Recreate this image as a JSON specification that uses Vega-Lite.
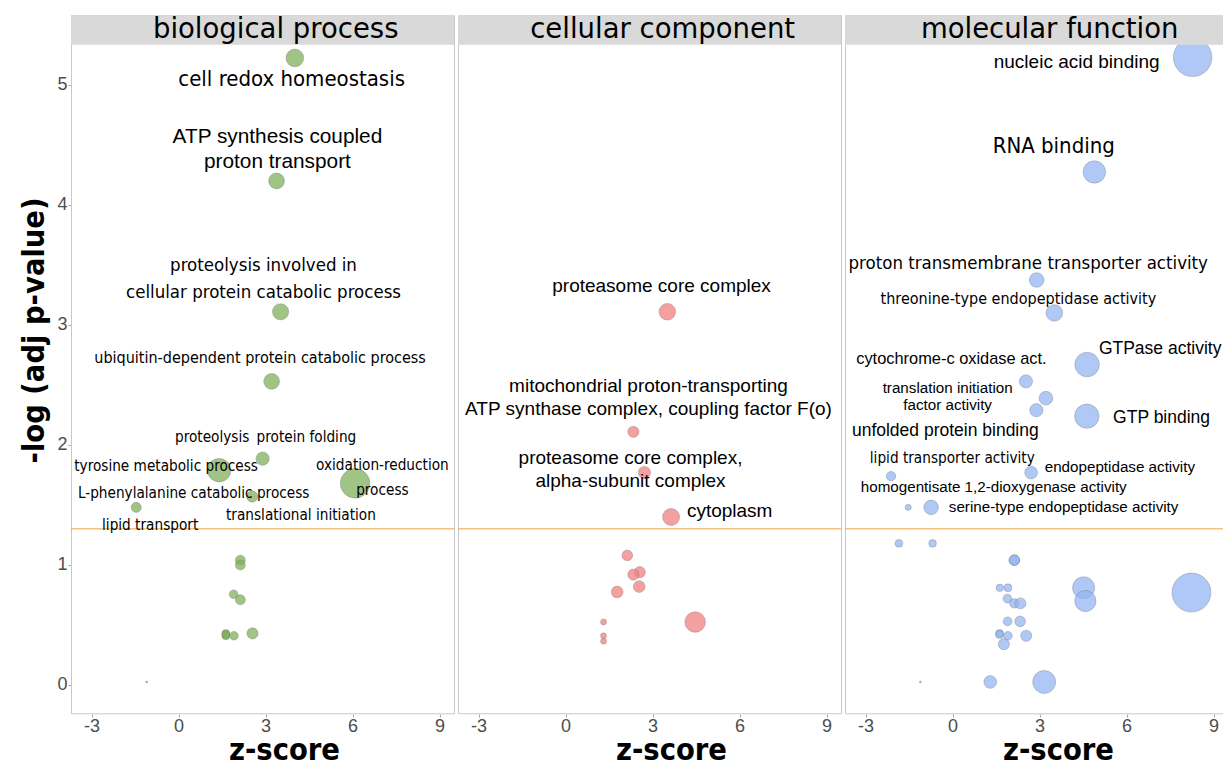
{
  "$schema": "https://vega.github.io/schema/vega-lite/v6.json",
  "padding": {"left": 19, "top": 14, "right": 0, "bottom": 0},
  "background": "white",
  "bounds": "flush",
  "config": {
    "view": {"stroke": "#C8C8C8", "strokeWidth": 1},
    "axis": {"grid": false, "domain": false, "tickSize": 3, "tickColor": "#A6A6A6", "labelFontSize": 18, "labelColor": "#4D4D4D", "labelFont": "Liberation Sans", "labelPadding": 1, "titleFont": "DejaVu Sans Condensed, sans-serif", "titleFontSize": 30.5, "titleFontWeight": "bold", "titleColor": "black"}
  },
  "data": {"values": [
    {"cat": "biological process", "term": "cell redox homeostasis", "lab": "cell redox homeostasis", "z": 4.01, "p": 5.225, "n": 25, "lx": 3.90, "ly": 5.05},
    {"cat": "biological process", "term": "ATP synthesis coupled proton transport", "lab": "ATP synthesis coupled\nproton transport", "z": 3.38, "p": 4.20, "n": 20, "lx": 3.41, "ly": 4.566},
    {"cat": "biological process", "term": "proteolysis involved in cellular protein catabolic process", "lab": "proteolysis involved in\ncellular protein catabolic process", "z": 3.52, "p": 3.11, "n": 21, "lx": 2.93, "ly": 3.50},
    {"cat": "biological process", "term": "ubiquitin-dependent protein catabolic process", "lab": "ubiquitin-dependent protein catabolic process", "z": 3.21, "p": 2.53, "n": 20, "lx": 2.81, "ly": 2.725},
    {"cat": "biological process", "term": "protein folding", "lab": "protein folding", "z": 2.90, "p": 1.886, "n": 14, "lx": 4.41, "ly": 2.07},
    {"cat": "biological process", "term": "proteolysis", "lab": "proteolysis", "z": 1.40, "p": 1.79, "n": 44, "lx": 1.16, "ly": 2.07},
    {"cat": "biological process", "term": "oxidation-reduction process", "lab": "oxidation-reduction\nprocess", "z": 6.09, "p": 1.68, "n": 70, "lx": 7.03, "ly": 1.833},
    {"cat": "biological process", "term": "L-phenylalanine catabolic process", "lab": "L-phenylalanine catabolic process", "z": 2.54, "p": 1.57, "n": 10, "lx": 0.52, "ly": 1.60},
    {"cat": "biological process", "term": "tyrosine metabolic process", "lab": "tyrosine metabolic process", "lx": -0.43, "ly": 1.825},
    {"cat": "biological process", "term": "translational initiation", "lab": "translational initiation", "lx": 4.22, "ly": 1.42},
    {"cat": "biological process", "term": "lipid transport", "lab": "lipid transport", "z": -1.46, "p": 1.48, "n": 8, "lx": -0.98, "ly": 1.33},
    {"cat": "biological process", "z": 2.13, "p": 1.04, "n": 8},
    {"cat": "biological process", "z": 2.13, "p": 1.00, "n": 8},
    {"cat": "biological process", "z": 1.90, "p": 0.756, "n": 6},
    {"cat": "biological process", "z": 2.13, "p": 0.71, "n": 8},
    {"cat": "biological process", "z": 1.63, "p": 0.43, "n": 5},
    {"cat": "biological process", "z": 1.63, "p": 0.41, "n": 5},
    {"cat": "biological process", "z": 1.63, "p": 0.42, "n": 5},
    {"cat": "biological process", "z": 1.91, "p": 0.41, "n": 6},
    {"cat": "biological process", "z": 2.55, "p": 0.43, "n": 10},
    {"cat": "biological process", "z": -1.10, "p": 0.025, "n": 0.3},
    {"cat": "cellular component", "term": "proteasome core complex", "lab": "proteasome core complex", "z": 3.51, "p": 3.11, "n": 22, "lx": 3.31, "ly": 3.325},
    {"cat": "cellular component", "term": "mitochondrial proton-transporting ATP synthase complex, coupling factor F(o)", "lab": "mitochondrial proton-transporting\nATP synthase complex, coupling factor F(o)", "z": 2.34, "p": 2.11, "n": 10, "lx": 2.86, "ly": 2.49},
    {"cat": "cellular component", "term": "proteasome core complex, alpha-subunit complex", "lab": "proteasome core complex,\nalpha-subunit complex", "z": 2.72, "p": 1.77, "n": 12, "lx": 2.24, "ly": 1.89},
    {"cat": "cellular component", "term": "cytoplasm", "lab": "cytoplasm", "z": 3.64, "p": 1.40, "n": 23, "lx": 5.66, "ly": 1.45},
    {"cat": "cellular component", "z": 2.13, "p": 1.08, "n": 9},
    {"cat": "cellular component", "z": 2.56, "p": 0.94, "n": 10},
    {"cat": "cellular component", "z": 2.34, "p": 0.92, "n": 10},
    {"cat": "cellular component", "z": 2.54, "p": 0.82, "n": 11},
    {"cat": "cellular component", "z": 1.78, "p": 0.775, "n": 11},
    {"cat": "cellular component", "z": 4.47, "p": 0.525, "n": 34},
    {"cat": "cellular component", "z": 1.31, "p": 0.525, "n": 2.8},
    {"cat": "cellular component", "z": 1.31, "p": 0.41, "n": 2.8},
    {"cat": "cellular component", "z": 1.31, "p": 0.365, "n": 2.8},
    {"cat": "molecular function", "term": "nucleic acid binding", "lab": "nucleic acid binding", "z": 8.28, "p": 5.23, "n": 118, "lx": 4.28, "ly": 5.19},
    {"cat": "molecular function", "term": "RNA binding", "lab": "RNA binding", "z": 4.89, "p": 4.275, "n": 40, "lx": 3.49, "ly": 4.49},
    {"cat": "molecular function", "term": "proton transmembrane transporter activity", "lab": "proton transmembrane transporter activity", "z": 2.90, "p": 3.375, "n": 17, "lx": 2.61, "ly": 3.52},
    {"cat": "molecular function", "term": "threonine-type endopeptidase activity", "lab": "threonine-type endopeptidase activity", "z": 3.51, "p": 3.10, "n": 22, "lx": 2.27, "ly": 3.22},
    {"cat": "molecular function", "term": "GTPase activity", "lab": "GTPase activity", "z": 4.64, "p": 2.67, "n": 48, "lx": 7.16, "ly": 2.80},
    {"cat": "molecular function", "term": "cytochrome-c oxidase act.", "lab": "cytochrome-c oxidase act.", "z": 2.53, "p": 2.53, "n": 14, "lx": -0.04, "ly": 2.72},
    {"cat": "molecular function", "term": "translation initiation factor activity", "lab": "translation initiation\nfactor activity", "z": 3.22, "p": 2.39, "n": 15, "lx": -0.17, "ly": 2.475},
    {"cat": "molecular function", "term": "unfolded protein binding", "lab": "unfolded protein binding", "z": 2.89, "p": 2.29, "n": 14, "lx": -0.25, "ly": 2.12},
    {"cat": "molecular function", "term": "GTP binding", "lab": "GTP binding", "z": 4.63, "p": 2.24, "n": 47, "lx": 7.21, "ly": 2.225},
    {"cat": "molecular function", "term": "lipid transporter activity", "lab": "lipid transporter activity", "z": -2.12, "p": 1.74, "n": 7, "lx": -0.01, "ly": 1.89},
    {"cat": "molecular function", "term": "endopeptidase activity", "lab": "endopeptidase activity", "z": 2.71, "p": 1.77, "n": 13, "lx": 5.77, "ly": 1.82},
    {"cat": "molecular function", "term": "homogentisate 1,2-dioxygenase activity", "lab": "homogentisate 1,2-dioxygenase activity", "z": -1.53, "p": 1.48, "n": 3, "lx": 1.42, "ly": 1.65},
    {"cat": "molecular function", "term": "serine-type endopeptidase activity", "lab": "serine-type endopeptidase activity", "z": -0.74, "p": 1.48, "n": 17, "lx": 3.83, "ly": 1.48},
    {"cat": "molecular function", "z": -1.85, "p": 1.18, "n": 4.7},
    {"cat": "molecular function", "z": -0.69, "p": 1.18, "n": 4.7},
    {"cat": "molecular function", "z": 2.13, "p": 1.04, "n": 9},
    {"cat": "molecular function", "z": 2.13, "p": 1.04, "n": 9},
    {"cat": "molecular function", "z": 1.63, "p": 0.81, "n": 4.4},
    {"cat": "molecular function", "z": 1.91, "p": 0.81, "n": 5},
    {"cat": "molecular function", "z": 4.52, "p": 0.81, "n": 39},
    {"cat": "molecular function", "z": 8.24, "p": 0.77, "n": 121},
    {"cat": "molecular function", "z": 1.89, "p": 0.72, "n": 6},
    {"cat": "molecular function", "z": 2.13, "p": 0.68, "n": 7},
    {"cat": "molecular function", "z": 2.34, "p": 0.68, "n": 9.6},
    {"cat": "molecular function", "z": 4.58, "p": 0.70, "n": 36},
    {"cat": "molecular function", "z": 1.90, "p": 0.53, "n": 6},
    {"cat": "molecular function", "z": 2.33, "p": 0.53, "n": 9},
    {"cat": "molecular function", "z": 1.62, "p": 0.43, "n": 5},
    {"cat": "molecular function", "z": 1.62, "p": 0.42, "n": 5},
    {"cat": "molecular function", "z": 1.91, "p": 0.41, "n": 6},
    {"cat": "molecular function", "z": 2.54, "p": 0.41, "n": 10},
    {"cat": "molecular function", "z": 1.77, "p": 0.34, "n": 10},
    {"cat": "molecular function", "z": -1.11, "p": 0.025, "n": 0.3},
    {"cat": "molecular function", "z": 1.30, "p": 0.025, "n": 13},
    {"cat": "molecular function", "z": 3.16, "p": 0.025, "n": 42}
  ]},
  "facet": {"column": {"field": "cat", "type": "nominal", "header": null, "sort": ["biological process", "cellular component", "molecular function"]}},
  "spacing": 4,
  "spec": {
    "width": 383,
    "height": 698.3,
    "layer": [
      {
        "transform": [{"aggregate": [{"op": "count", "as": "k"}], "groupby": ["cat"]}],
        "mark": {"type": "rule", "color": "#EFA23A", "strokeWidth": 1},
        "encoding": {"y": {"datum": 1.30103, "type": "quantitative"}}
      },
      {
        "transform": [{"filter": "isValid(datum.z)"}],
        "mark": {"type": "circle", "clip": true, "fillOpacity": 0.75, "stroke": "#6E6E6E", "strokeOpacity": 0.55, "strokeWidth": 0.6},
        "encoding": {
          "x": {"field": "z", "type": "quantitative", "scale": {"domain": [-3.71, 9.5], "nice": false, "zero": false},
                "axis": {"values": [-3, 0, 3, 6, 9], "labelExpr": "toString(datum.value)", "title": "z-score", "titleX": 213, "titlePadding": 0, "labelPadding": 0}},
          "y": {"field": "p", "type": "quantitative", "scale": {"domain": [-0.236, 5.583], "nice": false, "zero": false},
                "axis": {"values": [0, 1, 2, 3, 4, 5], "labelExpr": "toString(datum.value)", "title": "-log (adj p-value)", "titleY": 315, "titlePadding": 7}},
          "size": {"field": "n", "type": "quantitative", "scale": {"type": "linear", "domain": [0, 125], "range": [0, 1571]}, "legend": null},
          "color": {"field": "cat", "type": "nominal", "scale": {"domain": ["biological process", "cellular component", "molecular function"], "range": ["#80B059", "#F28080", "#94B6F2"]}, "legend": null}
        }
      },
      {
        "transform": [{"filter": {"field": "term", "oneOf": ["cell redox homeostasis", "RNA binding"]}}],
        "mark": {"type": "text", "font": "DejaVu Sans Condensed, sans-serif", "fontSize": 22, "baseline": "middle", "align": "center", "color": "black"},
        "encoding": {"x": {"field": "lx", "type": "quantitative"}, "y": {"field": "ly", "type": "quantitative"}, "text": {"field": "lab"}}
      },
      {
        "transform": [{"filter": {"field": "term", "oneOf": ["proteolysis involved in cellular protein catabolic process", "proton transmembrane transporter activity"]}}],
        "mark": {"type": "text", "font": "DejaVu Sans Condensed, sans-serif", "fontSize": 18.5, "lineBreak": "\n", "lineHeight": 27, "baseline": "middle", "align": "center", "color": "black"},
        "encoding": {"x": {"field": "lx", "type": "quantitative"}, "y": {"field": "ly", "type": "quantitative"}, "text": {"field": "lab"}}
      },
      {
        "transform": [{"filter": {"field": "term", "oneOf": ["ubiquitin-dependent protein catabolic process", "threonine-type endopeptidase activity"]}}],
        "mark": {"type": "text", "font": "DejaVu Sans Condensed, sans-serif", "fontSize": 16, "baseline": "middle", "align": "center", "color": "black"},
        "encoding": {"x": {"field": "lx", "type": "quantitative"}, "y": {"field": "ly", "type": "quantitative"}, "text": {"field": "lab"}}
      },
      {
        "transform": [{"filter": {"field": "term", "oneOf": ["proteolysis", "protein folding", "tyrosine metabolic process", "oxidation-reduction process", "L-phenylalanine catabolic process", "translational initiation", "lipid transport", "lipid transporter activity"]}}],
        "mark": {"type": "text", "font": "DejaVu Sans Condensed, sans-serif", "fontSize": 15.2, "lineBreak": "\n", "lineHeight": 25, "baseline": "middle", "align": "center", "color": "black"},
        "encoding": {"x": {"field": "lx", "type": "quantitative"}, "y": {"field": "ly", "type": "quantitative"}, "text": {"field": "lab"}}
      },
      {
        "transform": [{"filter": {"field": "term", "oneOf": ["ATP synthesis coupled proton transport"]}}],
        "mark": {"type": "text", "font": "Liberation Sans", "fontSize": 20.8, "lineBreak": "\n", "lineHeight": 25, "baseline": "middle", "align": "center", "color": "black"},
        "encoding": {"x": {"field": "lx", "type": "quantitative"}, "y": {"field": "ly", "type": "quantitative"}, "text": {"field": "lab"}}
      },
      {
        "transform": [{"filter": {"field": "term", "oneOf": ["proteasome core complex", "mitochondrial proton-transporting ATP synthase complex, coupling factor F(o)", "proteasome core complex, alpha-subunit complex", "cytoplasm", "nucleic acid binding"]}}],
        "mark": {"type": "text", "font": "Liberation Sans", "fontSize": 19, "lineBreak": "\n", "lineHeight": 23, "baseline": "middle", "align": "center", "color": "black"},
        "encoding": {"x": {"field": "lx", "type": "quantitative"}, "y": {"field": "ly", "type": "quantitative"}, "text": {"field": "lab"}}
      },
      {
        "transform": [{"filter": {"field": "term", "oneOf": ["GTPase activity", "GTP binding", "unfolded protein binding"]}}],
        "mark": {"type": "text", "font": "Liberation Sans", "fontSize": 17.5, "baseline": "middle", "align": "center", "color": "black"},
        "encoding": {"x": {"field": "lx", "type": "quantitative"}, "y": {"field": "ly", "type": "quantitative"}, "text": {"field": "lab"}}
      },
      {
        "transform": [{"filter": {"field": "term", "oneOf": ["cytochrome-c oxidase act."]}}],
        "mark": {"type": "text", "font": "Liberation Sans", "fontSize": 16.4, "baseline": "middle", "align": "center", "color": "black"},
        "encoding": {"x": {"field": "lx", "type": "quantitative"}, "y": {"field": "ly", "type": "quantitative"}, "text": {"field": "lab"}}
      },
      {
        "transform": [{"filter": {"field": "term", "oneOf": ["endopeptidase activity", "homogentisate 1,2-dioxygenase activity", "serine-type endopeptidase activity", "translation initiation factor activity"]}}],
        "mark": {"type": "text", "font": "Liberation Sans", "fontSize": 15.2, "lineBreak": "\n", "lineHeight": 17, "baseline": "middle", "align": "center", "color": "black"},
        "encoding": {"x": {"field": "lx", "type": "quantitative"}, "y": {"field": "ly", "type": "quantitative"}, "text": {"field": "lab"}}
      },
      {
        "transform": [{"aggregate": [{"op": "count", "as": "k"}], "groupby": ["cat"]}],
        "layer": [
          {
            "mark": {"type": "rect", "color": "#D9D9D9"},
            "encoding": {"x": {"datum": -3.71}, "x2": {"datum": 9.5}, "y": {"datum": 5.336}, "y2": {"datum": 5.583}}
          },
          {
            "mark": {"type": "text", "font": "DejaVu Sans", "fontSize": 27.5, "baseline": "middle", "align": "center", "color": "black"},
            "encoding": {"x": {"datum": 3.35}, "y": {"datum": 5.46}, "text": {"field": "cat"}}
          }
        ]
      }
    ]
  }
}
